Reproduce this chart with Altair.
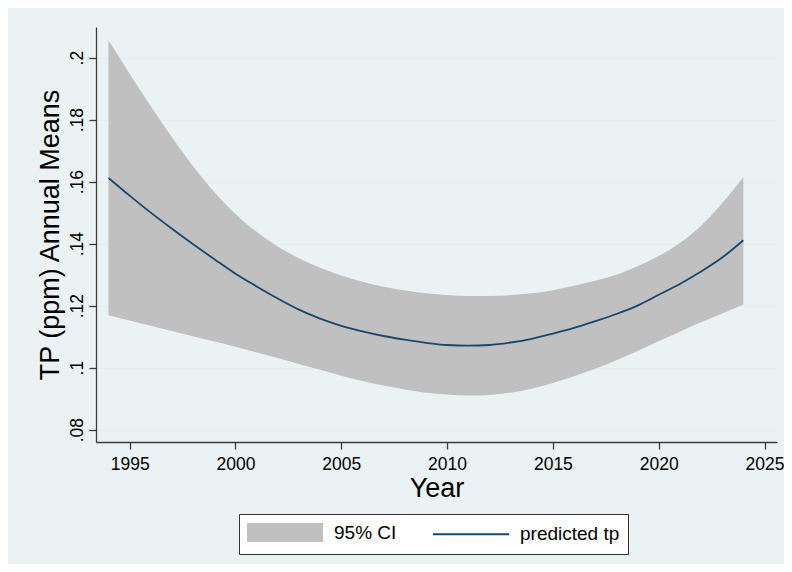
import altair as alt
import pandas as pd

# ---- data ----
years = list(range(1994, 2025))
predicted = [0.1612, 0.1555, 0.1500, 0.1448, 0.1398, 0.1350, 0.1303, 0.1262, 0.1223, 0.1187,
             0.1158, 0.1135, 0.1117, 0.1102, 0.1090, 0.1080, 0.1073, 0.1071, 0.1073, 0.1081,
             0.1093, 0.1110, 0.1128, 0.1150, 0.1173, 0.1200, 0.1235, 0.1270, 0.1310, 0.1355,
             0.1411]
ci_upper = [0.2056, 0.1948, 0.1843, 0.1743, 0.1650, 0.1567, 0.1496, 0.1438, 0.1391, 0.1353,
            0.1322, 0.1297, 0.1277, 0.1261, 0.1249, 0.1240, 0.1234, 0.1231, 0.1231, 0.1234,
            0.1240, 0.1250, 0.1264, 0.1280, 0.1300, 0.1327, 0.1360, 0.1402, 0.1458, 0.1530,
            0.1615]
ci_lower = [0.1169, 0.1152, 0.1135, 0.1118, 0.1101, 0.1084, 0.1067, 0.1049, 0.1031, 0.1012,
            0.0993, 0.0974, 0.0957, 0.0942, 0.0929, 0.0919, 0.0913, 0.0910, 0.0912, 0.0919,
            0.0932, 0.0950, 0.0972, 0.0996, 0.1024, 0.1054, 0.1085, 0.1116, 0.1146, 0.1175,
            0.1204]
legend_labels = ["95% CI", "predicted tp"]
x_ticks = [1995, 2000, 2005, 2010, 2015, 2020, 2025]
y_ticks = [0.08, 0.10, 0.12, 0.14, 0.16, 0.18, 0.20]

df = pd.DataFrame({"year": years, "pred": predicted, "lo": ci_lower, "hi": ci_upper})
leg = pd.DataFrame({"series": legend_labels})

FONT = "Liberation Sans"
CI_GRAY = "#c0c0c0"
NAVY = "#1a476f"

x_scale = alt.Scale(domain=[1993.41, 2025.59], nice=False, zero=False)
y_scale = alt.Scale(domain=[0.076, 0.2099], nice=False, zero=False)

x_axis = alt.Axis(values=x_ticks, format="d", title="Year", grid=False,
                  labelPadding=6, titlePadding=3)
y_axis = alt.Axis(values=y_ticks, title="TP (ppm) Annual Means",
                  labelExpr="substring(format(datum.value, '.2~f'), 1)",
                  labelAngle=270, labelAlign="center", labelBaseline="alphabetic",
                  labelPadding=7, titlePadding=4, grid=True)

band = alt.Chart(df).mark_area(color=CI_GRAY, opacity=1, interpolate="monotone").encode(
    x=alt.X("year:Q", scale=x_scale, axis=x_axis),
    y=alt.Y("hi:Q", scale=y_scale, axis=y_axis),
    y2="lo:Q",
)

line = alt.Chart(df).mark_line(color=NAVY, strokeWidth=1.8, interpolate="monotone").encode(
    x=alt.X("year:Q", scale=x_scale),
    y=alt.Y("pred:Q", scale=y_scale),
)

leg_def = alt.Legend(
    title=None, orient="none", legendX=143, legendY=487,
    direction="horizontal", columns=2,
    symbolSize=361, symbolStrokeWidth=2, symbolOffset=27.5, symbolOpacity=1,
    labelOffset=38.5, labelFontSize=19, labelFont=FONT, labelColor="black",
    columnPadding=32, padding=8, strokeColor="#333333", fillColor="white",
)

helper = alt.Chart(leg).mark_point(filled=True, opacity=0).encode(
    shape=alt.Shape("series:N", scale=alt.Scale(domain=legend_labels,
                    range=["M-4,-1H4V1H-4Z", "M-4,0H4"]), legend=leg_def),
    fill=alt.Fill("series:N", scale=alt.Scale(domain=legend_labels,
                  range=[CI_GRAY, "transparent"]), legend=leg_def),
    stroke=alt.Stroke("series:N", scale=alt.Scale(domain=legend_labels,
                      range=["transparent", NAVY]), legend=leg_def),
)

chart = alt.layer(band, line, helper).properties(
    width=681, height=415,
    autosize="none",
    padding={"left": 88, "top": 19, "right": 7, "bottom": 122},
    background="#eaf2f3",
).configure_view(
    fill="white", stroke="transparent",
).configure_axis(
    labelFont=FONT, titleFont=FONT, labelFontSize=17.5, titleFontSize=27,
    labelColor="black", titleColor="black", titleFontWeight="normal",
    domainColor="#3c3c3c", domainWidth=1.3, tickColor="#3c3c3c", tickWidth=1.3,
    tickSize=7, gridColor="#e4edef", gridWidth=1,
)

chart.save("out.html", embed_options={"renderer": "svg", "actions": False})
